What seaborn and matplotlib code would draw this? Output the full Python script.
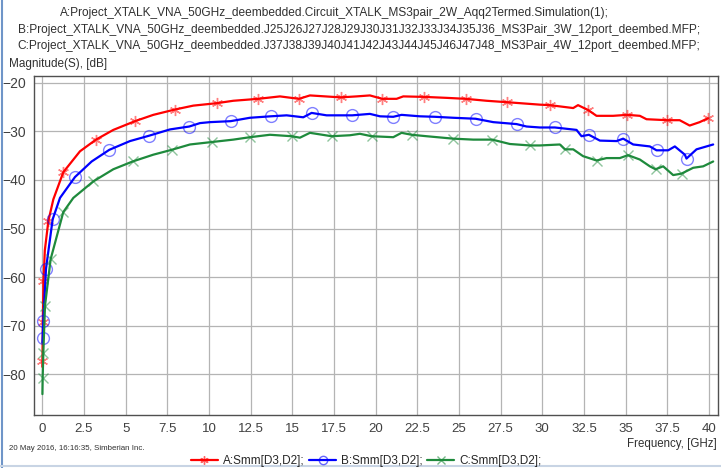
import numpy as np
import pandas as pd
import seaborn as sns
import matplotlib.pyplot as plt
from matplotlib.lines import Line2D
from matplotlib.colors import to_rgba
from matplotlib.legend_handler import HandlerLine2D

# frequency [GHz] / magnitude [dB], marker indices per series
freq_a = [0.005, 0.01, 0.03, 0.07, 0.15, 0.36, 0.66, 1.26, 2.26, 3.22, 4.26, 5.56, 6.66, 7.96,
          9.06, 10.46, 11.46, 12.96, 14.26, 15.4, 16.06, 17.9, 18.86, 19.66, 20.4, 21.26, 21.66,
          22.9, 24.26, 25.4, 26.66, 27.9, 29.86, 30.45, 31.86, 32.15, 32.75, 33.26, 34.25, 35.1,
          35.86, 36.26, 37.5, 38.25, 38.85, 39.45, 39.95]
mag_a = [-78.5, -77.2, -69.2, -60.8, -54.5, -48.5, -44.0, -38.4, -34.1, -31.7, -29.7, -27.9,
         -26.6, -25.5, -24.7, -24.2, -23.7, -23.3, -22.8, -23.3, -22.6, -23.0, -22.8, -22.6,
         -23.3, -23.3, -22.8, -22.9, -23.1, -23.3, -23.7, -24.0, -24.5, -24.6, -25.2, -24.6,
         -25.6, -26.8, -26.8, -26.6, -26.8, -27.5, -27.7, -27.7, -28.8, -28.1, -27.3]
marks_a = [1, 2, 3, 5, 7, 9, 11, 13, 15, 17, 19, 21, 24, 27, 29, 31, 33, 36, 39, 42, 46]

freq_b = [0.005, 0.02, 0.06, 0.22, 0.62, 1.06, 1.96, 2.96, 4.02, 5.26, 6.4, 7.66, 8.82, 9.46,
          10.06, 11.3, 12.46, 13.7, 14.66, 15.66, 16.16, 17.06, 18.6, 19.66, 20.26, 21.06, 21.56,
          22.66, 23.56, 24.66, 26.0, 27.06, 28.46, 29.06, 29.86, 30.76, 32.06, 32.36, 32.8,
          33.46, 34.46, 34.86, 35.46, 36.46, 36.86, 37.56, 37.96, 38.56, 38.66, 39.26, 40.26]
mag_b = [-73.5, -72.6, -69.0, -58.3, -48.1, -43.7, -39.4, -36.2, -33.8, -32.0, -30.9, -29.6,
         -29.0, -28.3, -28.1, -27.9, -27.2, -26.9, -26.7, -27.1, -26.2, -26.7, -26.7, -26.4,
         -26.9, -27.0, -26.6, -26.9, -27.0, -27.2, -27.4, -28.1, -28.5, -29.0, -29.2, -29.2,
         -29.7, -31.0, -30.7, -31.9, -32.0, -31.5, -32.7, -33.1, -33.9, -33.9, -33.1, -34.8,
         -35.6, -33.7, -32.7]
marks_b = [1, 2, 3, 4, 6, 8, 10, 12, 15, 17, 20, 22, 25, 28, 30, 32, 35, 38, 41, 44, 48]

freq_c = [0.005, 0.02, 0.06, 0.16, 0.5, 1.26, 1.86, 3.06, 4.26, 5.42, 6.66, 7.76, 8.86, 10.16,
          11.46, 12.46, 13.66, 14.96, 15.46, 16.06, 17.36, 18.46, 19.06, 19.76, 21.06, 21.56,
          22.16, 23.06, 24.66, 25.86, 27.0, 28.06, 29.26, 29.86, 31.06, 31.36, 31.86, 32.45,
          33.26, 33.86, 34.66, 35.15, 35.86, 36.46, 36.8, 37.26, 37.86, 38.36, 39.06, 39.66, 40.26]
mag_c = [-84.1, -80.7, -75.6, -65.9, -56.3, -46.6, -43.7, -40.3, -37.8, -36.2, -34.8, -33.8,
         -32.7, -32.2, -31.7, -31.2, -30.7, -31.0, -31.3, -30.3, -31.0, -30.8, -30.5, -31.0,
         -31.2, -30.3, -30.7, -31.0, -31.5, -31.7, -31.7, -32.6, -32.9, -32.9, -32.7, -33.7,
         -33.7, -35.1, -36.0, -35.5, -35.5, -34.9, -35.8, -37.2, -37.8, -37.2, -39.0, -38.7,
         -37.5, -37.2, -36.2]
marks_c = [1, 2, 3, 4, 5, 7, 9, 11, 13, 15, 17, 20, 23, 26, 28, 30, 32, 35, 38, 41, 44, 47]

labels = ["A:Smm[D3,D2];", "B:Smm[D3,D2];", "C:Smm[D3,D2];"]
title_lines = [
    "A:Project_XTALK_VNA_50GHz_deembedded.Circuit_XTALK_MS3pair_2W_Aqq2Termed.Simulation(1);",
    "B:Project_XTALK_VNA_50GHz_deembedded.J25J26J27J28J29J30J31J32J33J34J35J36_MS3Pair_3W_12port_deembed.MFP;",
    "C:Project_XTALK_VNA_50GHz_deembedded.J37J38J39J40J41J42J43J44J45J46J47J48_MS3Pair_4W_12port_deembed.MFP;",
]
x_ticks = np.arange(0, 40.1, 2.5)
y_ticks = [-20, -30, -40, -50, -60, -70, -80]


class EndMarkerHandler(HandlerLine2D):
    # legend sample with the marker at the right end of the line
    def get_xdata(self, legend, xdescent, ydescent, width, height, fontsize):
        xdata = np.array([-xdescent, width - xdescent])
        return xdata, np.array([width - xdescent - 2])


sns.set_style("white")
plt.rcParams['font.family'] = ['Liberation Sans', 'DejaVu Sans']

fig = plt.figure(figsize=(7.21, 4.68), dpi=100)
ax = fig.add_axes([34 / 721, 53 / 468, 684 / 721, 339 / 468])

series = [
    (freq_a, mag_a, marks_a, '#ff0000', (6, 2, 0), 8),
    (freq_b, mag_b, marks_b, '#0000ff', 'o', 8.5),
    (freq_c, mag_c, marks_c, '#1e8a3c', 'x', 7),
]
handles = []
for (f, m, mk, col, mrk, ms), lab in zip(series, labels):
    df = pd.DataFrame({'freq': f, 'mag': m})
    sns.lineplot(data=df, x='freq', y='mag', ax=ax, color=col, linewidth=1.6,
                 estimator=None, sort=False, marker=mrk, markevery=mk,
                 markersize=ms, markerfacecolor='none',
                 markeredgecolor=to_rgba(col, 0.5), markeredgewidth=1)
    handles.append(Line2D([], [], color=col, lw=1.6, marker=mrk, markersize=6,
                          markerfacecolor='none', markeredgecolor=to_rgba(col, 0.6),
                          markeredgewidth=1))

ax.set_xlim(-0.5, 40.55)
ax.set_ylim(-88.4, -18.6)
ax.set_xticks(x_ticks)
ax.set_xticklabels([f"{t:g}" for t in x_ticks])
ax.set_yticks(y_ticks)
ax.grid(True, color='#b4b4b4', linewidth=0.9)
ax.tick_params(axis='both', direction='out', length=4, width=0.9, color='#404040',
               labelsize=10, labelcolor='#404040', pad=2)
ax.tick_params(axis='x', pad=1.5, labelsize=9.5)
for s in ax.spines.values():
    s.set_color('#505050')
    s.set_linewidth(1)
ax.set_xlabel('')
ax.set_ylabel('')

centers = [334, 359, 359]
for i, (t, cx) in enumerate(zip(title_lines, centers)):
    fig.text(cx / 721, 1 - (13 + 16.5 * i) / 468, t, ha='center', va='center',
             fontsize=8.6, color='#303030')
fig.text(9 / 721, 1 - 64 / 468, 'Magnitude(S), [dB]', ha='left', va='center',
         fontsize=8.5, color='#303030')
fig.text(717 / 721, 1 - 444 / 468, 'Frequency, [GHz]', ha='right', va='center',
         fontsize=8.3, color='#303030')
fig.text(9 / 721, 1 - 448 / 468, '20 May 2016, 16:16:35, Simberian Inc.', ha='left',
         va='center', fontsize=5.7, color='#303030')

fig.legend(handles, labels, loc='center', bbox_to_anchor=(366 / 721, 1 - 461 / 468),
           ncol=3, frameon=False, fontsize=8.5, handlelength=2.3, handletextpad=0.4,
           columnspacing=0.4, borderpad=0.1,
           handler_map={Line2D: EndMarkerHandler()})

fig.add_artist(Line2D([2 / 721, 2 / 721], [0, 1], color='#6f95c8', lw=1.5))
fig.add_artist(Line2D([0, 1], [2 / 468, 2 / 468], color='#c8d4e4', lw=1.5))

plt.savefig('out.png', dpi=100)
